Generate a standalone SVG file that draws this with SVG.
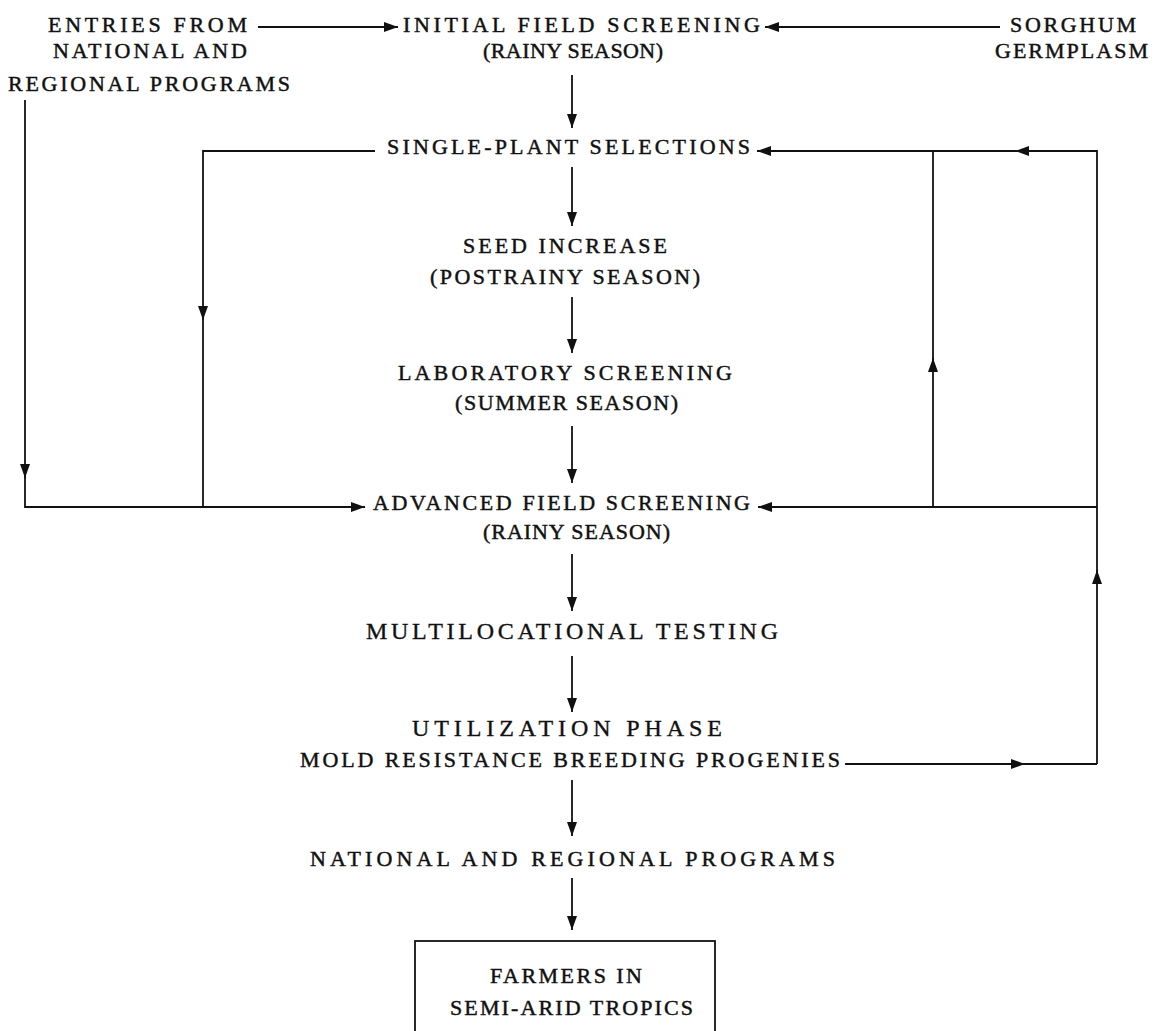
<svg xmlns="http://www.w3.org/2000/svg" width="1159" height="1031" viewBox="0 0 1159 1031">
<defs>
<style>
text{font-family:"Liberation Serif","Times New Roman",serif;font-size:22px;fill:#111;stroke:#111;stroke-width:0.45;}
.c{font-size:24px;stroke-width:0.35;}
.ln{fill:none;stroke:#111;stroke-width:1.8;}
</style>
<marker id="ah" viewBox="0 0 14 10" refX="14" refY="5" markerWidth="14" markerHeight="10" markerUnits="userSpaceOnUse" orient="auto">
<path d="M0,0 L14,5 L0,10 z" fill="#111"/>
</marker>
</defs>
<rect width="1159" height="1031" fill="#fff"/>
<g id="connectors">
<path class="ln" d="M258,27 H398" marker-end="url(#ah)"/>
<path class="ln" d="M1000,27 H765" marker-end="url(#ah)"/>
<path class="ln" d="M572,75 V128" marker-end="url(#ah)"/>
<path class="ln" d="M572,167 V226" marker-end="url(#ah)"/>
<path class="ln" d="M572,297 V353" marker-end="url(#ah)"/>
<path class="ln" d="M572,426 V483" marker-end="url(#ah)"/>
<path class="ln" d="M572,554 V611" marker-end="url(#ah)"/>
<path class="ln" d="M572,656 V712" marker-end="url(#ah)"/>
<path class="ln" d="M572,780 V836" marker-end="url(#ah)"/>
<path class="ln" d="M572,878 V930" marker-end="url(#ah)"/>
<path class="ln" d="M25,100 V478" marker-end="url(#ah)"/>
<path class="ln" d="M25,468 V507 H365" marker-end="url(#ah)"/>
<path class="ln" d="M375,151 H203 V320" marker-end="url(#ah)"/>
<path class="ln" d="M203,310 V507"/>
<path class="ln" d="M1097,507 H758" marker-end="url(#ah)"/>
<path class="ln" d="M933,507 V358" marker-end="url(#ah)"/>
<path class="ln" d="M933,368 V151"/>
<path class="ln" d="M1097,764 V570" marker-end="url(#ah)"/>
<path class="ln" d="M1097,580 V151 H1015" marker-end="url(#ah)"/>
<path class="ln" d="M1025,151 H757" marker-end="url(#ah)"/>
<path class="ln" d="M845,764 H1025" marker-end="url(#ah)"/>
<path class="ln" d="M1015,764 H1097"/>
</g>
<g id="entries">
<text x="48" y="32" textLength="199" lengthAdjust="spacing">ENTRIES FROM</text>
<text x="53" y="58" textLength="194" lengthAdjust="spacing">NATIONAL AND</text>
<text x="8" y="91" textLength="282" lengthAdjust="spacing">REGIONAL PROGRAMS</text>
</g>
<g id="initial">
<text x="403" y="32" textLength="357" lengthAdjust="spacing">INITIAL FIELD SCREENING</text>
<text x="483" y="58" textLength="180" lengthAdjust="spacing">(RAINY SEASON)</text>
</g>
<g id="sorghum">
<text x="1010" y="32" textLength="126" lengthAdjust="spacing">SORGHUM</text>
<text x="995" y="58" textLength="153" lengthAdjust="spacing">GERMPLASM</text>
</g>
<g id="single">
<text x="387" y="154" textLength="363" lengthAdjust="spacing">SINGLE-PLANT SELECTIONS</text>
</g>
<g id="seed">
<text x="463" y="253" textLength="204" lengthAdjust="spacing">SEED INCREASE</text>
<text x="430" y="284" textLength="270" lengthAdjust="spacing">(POSTRAINY SEASON)</text>
</g>
<g id="lab">
<text x="398" y="380" textLength="334" lengthAdjust="spacing">LABORATORY SCREENING</text>
<text x="455" y="410" textLength="223" lengthAdjust="spacing">(SUMMER SEASON)</text>
</g>
<g id="advanced">
<text x="373" y="510" textLength="377" lengthAdjust="spacing">ADVANCED FIELD SCREENING</text>
<text x="483" y="539" textLength="187" lengthAdjust="spacing">(RAINY SEASON)</text>
</g>
<g id="multi">
<text class="c" x="366" y="639" textLength="412" lengthAdjust="spacing">MULTILOCATIONAL TESTING</text>
</g>
<g id="utilization">
<text class="c" x="412" y="736" textLength="310" lengthAdjust="spacing">UTILIZATION PHASE</text>
<text x="300" y="767" textLength="540" lengthAdjust="spacing">MOLD RESISTANCE BREEDING PROGENIES</text>
</g>
<g id="national">
<text x="310" y="866" textLength="525" lengthAdjust="spacing">NATIONAL AND REGIONAL PROGRAMS</text>
</g>
<g id="farmers">
<rect x="415" y="941" width="300" height="110" fill="none" stroke="#111" stroke-width="1.8"/>
<text x="490" y="983" textLength="152" lengthAdjust="spacing">FARMERS IN</text>
<text x="450" y="1015" textLength="243" lengthAdjust="spacing">SEMI-ARID TROPICS</text>
</g>
</svg>
